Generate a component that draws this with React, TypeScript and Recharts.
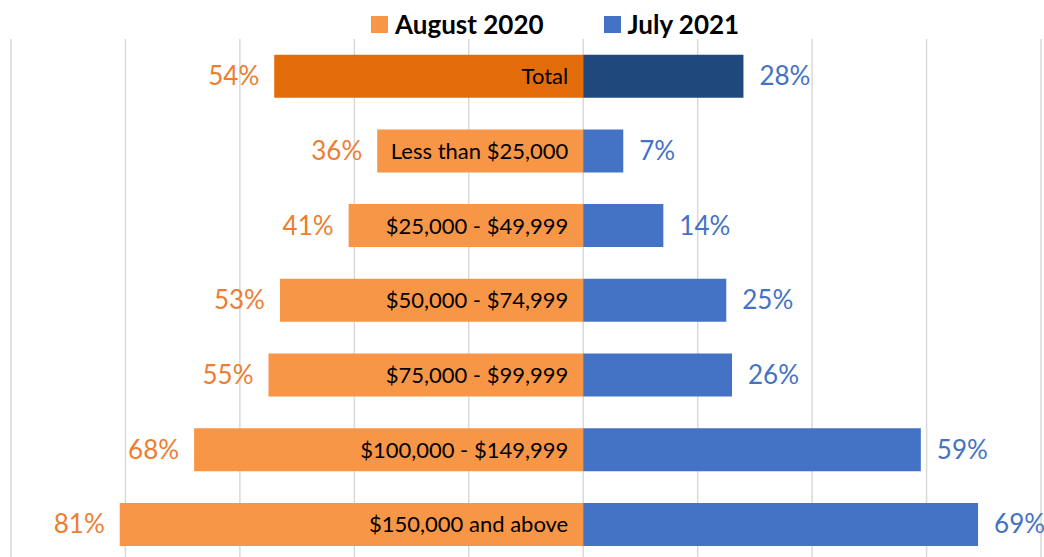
import React from 'react';
import { BarChart, Bar, XAxis, YAxis, CartesianGrid, Cell, LabelList } from 'recharts';

const categories = [
    'Total',
    'Less than $25,000',
    '$25,000 - $49,999',
    '$50,000 - $74,999',
    '$75,000 - $99,999',
    '$100,000 - $149,999',
    '$150,000 and above'
];
const august2020 = [54, 36, 41, 53, 55, 68, 81];
const july2021 = [28, 7, 14, 25, 26, 59, 69];
const xTicks = [-100, -80, -60, -40, -20, 0, 20, 40, 60, 80];

const colors = {
    aug: '#F79646',
    augTotal: '#E36C0A',
    jul: '#4472C4',
    julTotal: '#1F497D',
    augText: '#ED7D31',
    julText: '#4472C4'
};

const data = categories.map((name, i) => ({
    name,
    aug: -august2020[i],
    jul: july2021[i]
}));

const FONT = 'Lato, "Open Sans", sans-serif';

const LeftLabel = (props: any) => {
    const { x, y, width, height, value, index } = props;
    const barLeft = Math.min(x, x + width);
    const barRight = Math.max(x, x + width);
    const cy = y + height / 2;
    return (
        <g>
            <text x={barLeft - 15} y={cy} dy={9} textAnchor="end" fill={colors.augText} fontSize={26} fontFamily={FONT}>
                {Math.abs(value)}%
            </text>
            <text x={barRight - 15} y={cy} dy={8} textAnchor="end" fill="#000" fontSize={22} fontFamily={FONT}>
                {categories[index]}
            </text>
        </g>
    );
};

const RightLabel = (props: any) => {
    const { x, y, width, height, value } = props;
    const cy = y + height / 2;
    return (
        <text x={x + width + 16} y={cy} dy={9} textAnchor="start" fill={colors.julText} fontSize={26} fontFamily={FONT}>
            {value}%
        </text>
    );
};

const ChartLegend = () => (
    <div style={{ position: 'absolute', left: 371, top: 8, display: 'flex', alignItems: 'center', fontFamily: FONT, fontWeight: 700, fontSize: 26, color: '#000', lineHeight: '32px' }}>
        <span style={{ display: 'inline-block', width: 17, height: 17, background: colors.aug, marginRight: 7 }} />
        <span style={{ marginRight: 60 }}>August 2020</span>
        <span style={{ display: 'inline-block', width: 17, height: 17, background: colors.jul, marginRight: 7 }} />
        <span>July 2021</span>
    </div>
);

export default function App() {
    return (
        <div style={{ position: 'absolute', left: 0, top: 0, width: 1044, height: 557, overflow: 'hidden', background: '#fff' }}>
            <BarChart
                width={1044}
                height={575}
                data={data}
                layout="vertical"
                stackOffset="sign"
                barCategoryGap="21%"
                margin={{ top: 39, right: 3, left: 11, bottom: 13 }}
            >
                <CartesianGrid horizontal={false} stroke="#D9D9D9" strokeWidth={1.5} />
                <XAxis type="number" domain={[-100, 80]} ticks={xTicks} hide />
                <YAxis type="category" dataKey="name" hide />
                <Bar dataKey="aug" stackId="s" isAnimationActive={false}>
                    {data.map((d, i) => (
                        <Cell key={d.name} fill={i === 0 ? colors.augTotal : colors.aug} />
                    ))}
                    <LabelList dataKey="aug" content={<LeftLabel />} />
                </Bar>
                <Bar dataKey="jul" stackId="s" isAnimationActive={false}>
                    {data.map((d, i) => (
                        <Cell key={d.name} fill={i === 0 ? colors.julTotal : colors.jul} />
                    ))}
                    <LabelList dataKey="jul" content={<RightLabel />} />
                </Bar>
            </BarChart>
            <ChartLegend />
        </div>
    );
}
